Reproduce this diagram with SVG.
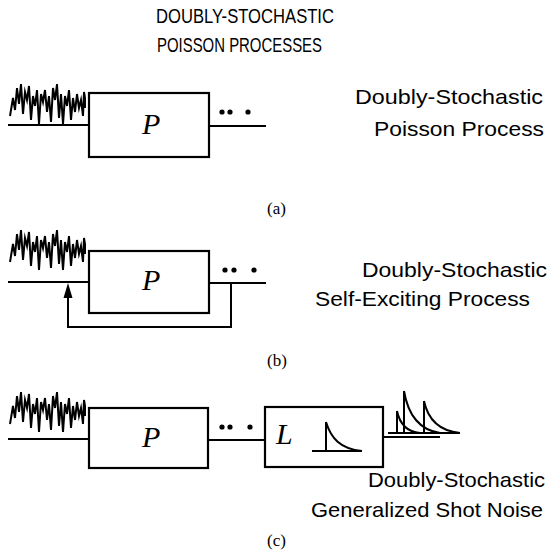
<svg xmlns="http://www.w3.org/2000/svg" width="551" height="551" viewBox="0 0 551 551">
<style>
.ln{fill:none;stroke:#000;stroke-width:2;stroke-linecap:butt}
.box{fill:#fff;stroke:#000;stroke-width:2.2}
.nz{fill:none;stroke:#000;stroke-width:2;stroke-linejoin:miter;stroke-miterlimit:6}
.ttl{font-family:"Liberation Sans",Arial,sans-serif;font-size:20px;fill:#000}
.lab{font-family:"Liberation Sans",Arial,sans-serif;font-size:21px;fill:#000}
.cap{font-family:"Liberation Serif","Times New Roman",serif;font-size:17px;fill:#000}
.sym{font-family:"Liberation Serif","Times New Roman",serif;font-style:italic;font-size:30px;fill:#000}
.dot{fill:#000}
</style>
<defs>
<path id="noise" d="M0,-10 L3,-28 L5,-16 L7,-38 L9,-22 L11,-42 L13,-12 L15,-34 L17,-26 L19,-40 L21,-6 L23,-30 L25,-20 L27,-36 L29,-2 L31,-32 L33,-24 L35,-36 L37,-14 L39,-30 L41,-4 L43,-38 L45,-26 L47,-42 L49,-8 L51,-32 L53,-2 L55,-30 L57,-20 L59,-36 L61,-6 L63,-28 L65,-14 L67,-32 L69,-18 L71,-26 L73,-10 L74,-34 L75,-28 L75,-18"/>
</defs>

<g id="title">
<text class="ttl" x="156" y="23" textLength="178" lengthAdjust="spacingAndGlyphs">DOUBLY-STOCHASTIC</text>
<text class="ttl" x="157" y="52" textLength="165" lengthAdjust="spacingAndGlyphs">POISSON PROCESSES</text>
</g>

<g id="connectors">
<!-- (a) -->
<path class="ln" d="M8,125 H89"/>
<path class="ln" d="M209,126 H266"/>
<!-- (b) -->
<path class="ln" d="M8,282 H89"/>
<path class="ln" d="M209,283 H266"/>
<path class="ln" d="M231,283 V327 H68 V296"/>
<polygon points="68,283 63.5,298 72.5,298" fill="#000"/>
<!-- (c) -->
<path class="ln" d="M8,439 H89"/>
<path class="ln" d="M208,440 H265"/>
<path class="ln" d="M383,437 H440"/>
</g>

<g id="a-input"><use href="#noise" class="nz" transform="translate(10,126)"/></g>
<g id="a-P"><rect class="box" x="89" y="93" width="120" height="64"/><text class="sym" x="142" y="134">P</text></g>
<g id="a-dots"><circle class="dot" cx="222" cy="112" r="2.6"/><circle class="dot" cx="230" cy="112" r="2.6"/><circle class="dot" cx="248" cy="112" r="2.6"/></g>
<g id="a-label">
<text class="lab" x="355" y="104" textLength="188" lengthAdjust="spacingAndGlyphs">Doubly-Stochastic</text>
<text class="lab" x="374" y="136" textLength="170" lengthAdjust="spacingAndGlyphs">Poisson Process</text>
<text class="cap" x="267" y="214">(a)</text>
</g>

<g id="b-input"><use href="#noise" class="nz" transform="translate(10,272)"/></g>
<g id="b-P"><rect class="box" x="89" y="251" width="120" height="62"/><text class="sym" x="142" y="290">P</text></g>
<g id="b-dots"><circle class="dot" cx="225" cy="270" r="2.6"/><circle class="dot" cx="234" cy="270" r="2.6"/><circle class="dot" cx="254" cy="270" r="2.6"/></g>
<g id="b-label">
<text class="lab" x="362" y="277" textLength="185" lengthAdjust="spacingAndGlyphs">Doubly-Stochastic</text>
<text class="lab" x="315" y="306" textLength="215" lengthAdjust="spacingAndGlyphs">Self-Exciting Process</text>
<text class="cap" x="267" y="366">(b)</text>
</g>

<g id="c-input"><use href="#noise" class="nz" transform="translate(10,434)"/></g>
<g id="c-P"><rect class="box" x="89" y="408" width="119" height="60"/><text class="sym" x="142" y="447">P</text></g>
<g id="c-dots"><circle class="dot" cx="222" cy="427" r="2.6"/><circle class="dot" cx="230" cy="427" r="2.6"/><circle class="dot" cx="250" cy="427" r="2.6"/></g>
<g id="c-L">
<rect class="box" x="265" y="407" width="118" height="60"/>
<text class="sym" x="276" y="444">L</text>
<path class="ln" d="M312,451 H362 M326,451 V422"/>
<path class="ln" d="M326,422 C331,438 340,449 362,451"/>
</g>
<g id="c-output">
<path class="ln" d="M388,433 H460"/>
<path class="ln" d="M397,433 V411 M404,433 V391 M424,433 V401"/>
<path class="ln" d="M397,411 C400,425 408,432 420,433"/>
<path class="ln" d="M404,391 C408,415 420,430 440,433"/>
<path class="ln" d="M424,401 C428,420 440,431 460,433"/>
</g>
<g id="c-label">
<text class="lab" x="368" y="487" textLength="177" lengthAdjust="spacingAndGlyphs">Doubly-Stochastic</text>
<text class="lab" x="311" y="517" textLength="232" lengthAdjust="spacingAndGlyphs">Generalized Shot Noise</text>
<text class="cap" x="267" y="546">(c)</text>
</g>
</svg>
